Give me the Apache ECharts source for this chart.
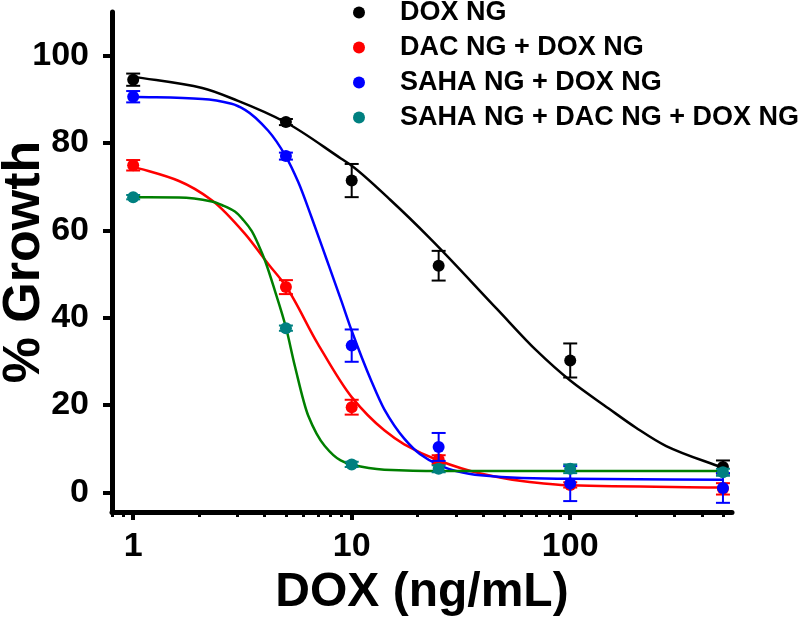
<!DOCTYPE html>
<html>
<head>
<meta charset="utf-8">
<script src="https://cdn.jsdelivr.net/npm/echarts@6/dist/echarts.min.js"></script>
<style>
html,body{margin:0;padding:0;background:#fff;}
#chart{width:800px;height:620px;}
</style>
</head>
<body>
<div id="chart"></div>
<script>
// ---------- data ----------
const seriesNames = ['DOX NG', 'DAC NG + DOX NG', 'SAHA NG + DOX NG', 'SAHA NG + DAC NG + DOX NG'];
const doses = [1, 5, 10, 25, 100, 500];

const doxMean  = [94.5, 84.8, 71.4, 51.9, 30.2, 5.8];
const doxErr   = [1.4, 0.7, 3.8, 3.4, 3.9, 1.5];
const dacMean  = [74.9, 47.0, 19.5, 7.5, 1.7, 0.8];
const dacErr   = [1.2, 1.6, 1.7, 1.0, 0.6, 1.3];
const sahaMean = [90.6, 77.0, 33.6, 10.4, 2.0, 1.0];
const sahaErr  = [1.3, 0.8, 3.7, 3.2, 4.0, 3.4];
const tripMean = [67.6, 37.6, 6.4, 5.4, 5.4, 4.6];
const tripErr  = [0.5, 0.6, 0.6, 0.8, 1.0, 0.8];

// fitted curves, sampled by eye from the reference
const doxCurveX  = [1, 2.07, 3, 5, 8.96, 10, 15, 23, 46.4, 70, 100, 150, 200, 275, 500];
const doxCurveY  = [95.2, 92.6, 89.7, 84.7, 76.4, 74.8, 67.0, 58.0, 41.9, 32.5, 25.6, 19.2, 14.8, 10.6, 5.6];
const dacCurveX  = [1, 1.62, 2.29, 3.25, 4.15, 5, 7, 10, 14.1, 17.4, 25, 38.9, 60, 100, 500];
const dacCurveY  = [74.6, 71.3, 66.9, 59.2, 52.3, 47.2, 34.0, 21.8, 14.2, 11.0, 7.3, 4.3, 2.6, 1.6, 1.1];
const sahaCurveX = [1, 2.07, 2.82, 3.25, 4.15, 5, 5.7, 6.55, 7.66, 8.96, 10, 12.3, 14.1, 17.4, 20.5, 25, 30, 38.9, 60, 100, 500];
const sahaCurveY = [90.6, 90.1, 89.0, 87.6, 82.8, 76.9, 71.0, 63.0, 53.5, 43.9, 37.0, 25.5, 19.0, 12.3, 8.8, 6.3, 4.9, 3.9, 3.3, 3.1, 2.9];
const tripCurveX = [1, 1.62, 2.29, 2.6, 2.92, 3.2, 3.49, 3.75, 4.01, 4.45, 5, 5.49, 6.32, 7.53, 8.9, 10, 14.1, 25, 100, 500];
const tripCurveY = [67.6, 67.5, 66.6, 65.6, 64.3, 62.3, 59.8, 56.6, 53.1, 46.2, 37.8, 29.0, 17.6, 10.6, 7.3, 6.3, 5.2, 4.9, 4.9, 4.9];

const yTickValues = [0, 20, 40, 60, 80, 100];
const xMajorTicks = [1, 10, 100];
const xMinorTicks = [0.8, 0.9, 2, 3, 4, 5, 6, 7, 8, 9, 20, 30, 40, 50, 60, 70, 80, 90, 200, 300, 400, 500];

// ---------- styling ----------
const markerColors = ['#000000', '#ff0000', '#0000ff', '#008080'];
const curveColors  = ['#000000', '#ff0000', '#0000ff', '#007f00'];
const FONT = 'Liberation Sans, Arial, Helvetica, sans-serif';

const means = [doxMean, dacMean, sahaMean, tripMean];
const errs = [doxErr, dacErr, sahaErr, tripErr];
const curvesX = [doxCurveX, dacCurveX, sahaCurveX, tripCurveX];
const curvesY = [doxCurveY, dacCurveY, sahaCurveY, tripCurveY];

// monotone cubic path (pixel space) through points mapped by the axes
function monotonePath(pts) {
  const n = pts.length;
  const d = [], m = new Array(n);
  for (let k = 0; k < n - 1; k++) {
    d.push((pts[k + 1][1] - pts[k][1]) / (pts[k + 1][0] - pts[k][0]));
  }
  m[0] = d[0]; m[n - 1] = d[n - 2];
  for (let k = 1; k < n - 1; k++) {
    if (d[k - 1] * d[k] <= 0) { m[k] = 0; }
    else {
      const h0 = pts[k][0] - pts[k - 1][0], h1 = pts[k + 1][0] - pts[k][0];
      const w1 = 2 * h1 + h0, w2 = h1 + 2 * h0;
      m[k] = (w1 + w2) / (w1 / d[k - 1] + w2 / d[k]);
    }
  }
  let s = 'M' + pts[0][0] + ' ' + pts[0][1];
  for (let k = 0; k < n - 1; k++) {
    const h = (pts[k + 1][0] - pts[k][0]) / 3;
    s += ' C' + (pts[k][0] + h) + ' ' + (pts[k][1] + m[k] * h) + ' ' +
         (pts[k + 1][0] - h) + ' ' + (pts[k + 1][1] - m[k + 1] * h) + ' ' +
         pts[k + 1][0] + ' ' + pts[k + 1][1];
  }
  return s;
}

const series = [];
for (let i = 0; i < 4; i++) {
  const color = curveColors[i];
  series.push({
    name: 'fit' + i,
    type: 'custom',
    data: curvesX[i].map((x, k) => [x, curvesY[i][k]]),
    encode: { x: 0, y: 1 },
    z: 2,
    silent: true,
    renderItem: function (params, api) {
      if (params.dataIndex !== 0) return null;
      const pts = curvesX[i].map((x, k) => api.coord([x, curvesY[i][k]]));
      return {
        type: 'path',
        shape: { pathData: monotonePath(pts) },
        style: { fill: null, stroke: color, lineWidth: 2.5 }
      };
    }
  });
}
for (let i = 0; i < 4; i++) {
  const color = markerColors[i];
  series.push({
    name: 'err' + i,
    type: 'custom',
    data: doses.map((d, k) => [d, means[i][k] - errs[i][k], means[i][k] + errs[i][k]]),
    encode: { x: 0, y: [1, 2] },
    z: 3 + i,
    silent: true,
    renderItem: function (params, api) {
      const x = api.value(0);
      const lo = api.coord([x, api.value(1)]);
      const hi = api.coord([x, api.value(2)]);
      const hw = 7;
      const st = { stroke: color, lineWidth: 2 };
      return {
        type: 'group',
        children: [
          { type: 'line', shape: { x1: lo[0], y1: lo[1], x2: hi[0], y2: hi[1] }, style: st },
          { type: 'line', shape: { x1: hi[0] - hw, y1: hi[1], x2: hi[0] + hw, y2: hi[1] }, style: st },
          { type: 'line', shape: { x1: lo[0] - hw, y1: lo[1], x2: lo[0] + hw, y2: lo[1] }, style: st }
        ]
      };
    }
  });
  series.push({
    name: seriesNames[i],
    type: 'scatter',
    data: doses.map((d, k) => [d, means[i][k]]),
    symbol: 'circle',
    symbolSize: 12,
    itemStyle: { color: color, opacity: 1 },
    z: 3 + i
  });
}

const chart = echarts.init(document.getElementById('chart'), null, { renderer: 'canvas' });
chart.setOption({
  backgroundColor: '#ffffff',
  animation: false,
  textStyle: { fontFamily: FONT },
  grid: { left: 112, right: 68, top: 12, bottom: 108, containLabel: false, outerBoundsMode: 'none' },
  legend: {
    data: seriesNames.map((n, i) => ({ name: n, icon: 'circle', itemStyle: { color: markerColors[i] } })),
    orient: 'vertical',
    left: 353,
    top: -1,
    padding: 0,
    itemWidth: 12,
    itemHeight: 12,
    itemGap: 8,
    textStyle: { fontSize: 27, fontWeight: 'bold', color: '#000', fontFamily: FONT, padding: [0, 0, 0, 30] }
  },
  xAxis: [
    {
      type: 'log',
      logBase: 10,
      min: 0.8,
      max: 550,
      position: 'bottom',
      name: 'DOX (ng/mL)',
      nameLocation: 'middle',
      nameGap: 53,
      nameTextStyle: { fontSize: 48, fontWeight: 'bold', color: '#000', fontFamily: FONT },
      axisLine: { show: true, onZero: false, lineStyle: { color: '#000', width: 5 } },
      axisTick: { show: true, customValues: xMajorTicks, length: 8, lineStyle: { color: '#000', width: 4 } },
      axisLabel: { customValues: xMajorTicks, fontSize: 34, fontWeight: 'bold', color: '#000', margin: 18, fontFamily: FONT,
                   formatter: v => String(Math.round(v)) },
      splitLine: { show: false },
      minorTick: { show: false }
    },
    {
      type: 'log',
      logBase: 10,
      min: 0.8,
      max: 550,
      position: 'bottom',
      axisLine: { show: false, onZero: false },
      axisTick: { show: true, customValues: xMinorTicks, length: 5, lineStyle: { color: '#000', width: 3 } },
      axisLabel: { show: false },
      splitLine: { show: false }
    }
  ],
  yAxis: {
    type: 'value',
    min: -4.5,
    max: 110,
    name: '% Growth',
    nameLocation: 'middle',
    nameGap: 61,
    nameRotate: 90,
    nameMoveOverlap: false,
    nameTextStyle: { fontSize: 52, fontWeight: 'bold', color: '#000', fontFamily: FONT },
    axisLine: { show: true, onZero: false, lineStyle: { color: '#000', width: 5 } },
    axisTick: { show: true, customValues: yTickValues, length: 9, lineStyle: { color: '#000', width: 4 } },
    axisLabel: { customValues: yTickValues, fontSize: 34, fontWeight: 'bold', color: '#000', margin: 23, fontFamily: FONT },
    splitLine: { show: false }
  },
  series: series
});
</script>
</body>
</html>
